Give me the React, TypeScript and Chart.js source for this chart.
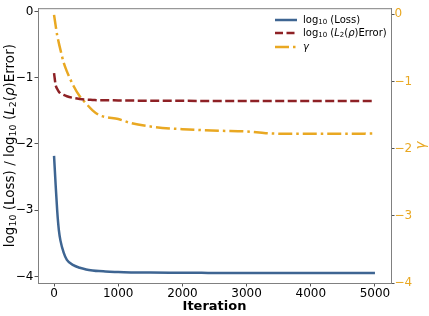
import { useEffect, useRef } from "react";
import { Chart, registerables } from "chart.js";

Chart.register(...registerables);

const iterations = [0, 25, 50, 75, 100, 150, 200, 300, 400, 500, 600, 700, 800, 1000, 1200, 1500, 1800, 2000, 2300, 2600, 3000, 3300, 3600, 4000, 4500, 5000];
const lossLog = [-2.18, -2.62, -3.02, -3.3, -3.46, -3.64, -3.75, -3.83, -3.87, -3.895, -3.91, -3.92, -3.925, -3.935, -3.94, -3.943, -3.945, -3.946, -3.947, -3.948, -3.948, -3.949, -3.949, -3.95, -3.95, -3.95];
const l2ErrorLog = [-0.93, -1.11, -1.17, -1.21, -1.235, -1.26, -1.28, -1.305, -1.32, -1.33, -1.335, -1.34, -1.34, -1.343, -1.345, -1.347, -1.348, -1.349, -1.35, -1.35, -1.35, -1.35, -1.35, -1.35, -1.35, -1.35];
const gammaValues = [-0.01, -0.17, -0.32, -0.43, -0.53, -0.72, -0.85, -1.06, -1.22, -1.33, -1.43, -1.5, -1.53, -1.56, -1.62, -1.67, -1.7, -1.71, -1.725, -1.735, -1.745, -1.77, -1.78, -1.78, -1.78, -1.775];

const xTicks = [0, 1000, 2000, 3000, 4000, 5000];
const yLeftTicks = [-4, -3, -2, -1, 0];
const yRightTicks = [-4, -3, -2, -1, 0];

const seriesLabels = ["log₁₀(Loss)", "log₁₀(L₂(ρ)Error)", "γ"];
const xTitle = "Iteration";
const yLeftTitle = "log₁₀ (Loss) / log₁₀ (L₂(ρ)Error)";
const yRightTitle = "γ";

const BLUE = "#3e6592";
const RED = "#8e2125";
const ORANGE = "#e9a822";
const SPINE = "#808080";
const FONT = '"DejaVu Sans"';

type Seg = { t: string; sub?: boolean; it?: boolean };

// rich text pieces (subscripts, italics) for the mathtext-like labels
const leftTitleSegs: Seg[] = [
  { t: "log" }, { t: "10", sub: true }, { t: " (Loss) / log" }, { t: "10", sub: true },
  { t: " (" }, { t: "L", it: true }, { t: "2", sub: true }, { t: "(" }, { t: "ρ", it: true }, { t: ")Error)" },
];
const legendSegs: Seg[][] = [
  [{ t: "log" }, { t: "10", sub: true }, { t: " (Loss)" }],
  [{ t: "log" }, { t: "10", sub: true }, { t: " (" }, { t: "L", it: true }, { t: "2", sub: true }, { t: "(" }, { t: "ρ", it: true }, { t: ")Error)" }],
  [{ t: "γ", it: true }],
];

function segFont(s: Seg, size: number) {
  const sz = s.sub ? size * 0.7 : size;
  return `${s.it ? "italic " : ""}${sz}px ${FONT}`;
}

function drawRich(ctx: CanvasRenderingContext2D, segs: Seg[], x: number, y: number, size: number, rot: number, align: "center" | "left", color: string) {
  ctx.save();
  ctx.translate(x, y);
  ctx.rotate(rot);
  ctx.fillStyle = color;
  ctx.textBaseline = "middle";
  ctx.textAlign = "left";
  let total = 0;
  const widths = segs.map((s) => {
    ctx.font = segFont(s, size);
    const w = ctx.measureText(s.t).width;
    total += w;
    return w;
  });
  let cx = align === "center" ? -total / 2 : 0;
  segs.forEach((s, i) => {
    ctx.font = segFont(s, size);
    ctx.fillText(s.t, cx, s.sub ? size * 0.25 : 0);
    cx += widths[i];
  });
  ctx.restore();
}

const decorPlugin = {
  id: "decor",
  afterDraw(chart: any) {
    const ctx = chart.ctx as CanvasRenderingContext2D;
    const a = chart.chartArea;
    // top spine
    ctx.save();
    ctx.strokeStyle = SPINE;
    ctx.lineWidth = 1;
    ctx.beginPath();
    ctx.moveTo(a.left, a.top + 0.5);
    ctx.lineTo(a.right, a.top + 0.5);
    ctx.stroke();
    ctx.restore();

    // axis titles
    drawRich(ctx, leftTitleSegs, 10, (a.top + a.bottom) / 2, 13.5, -Math.PI / 2, "center", "#000");
    drawRich(ctx, [{ t: yRightTitle, it: true }], 421, (a.top + a.bottom) / 2, 13.5, -Math.PI / 2, "center", ORANGE);

    // legend
    const rows = [20, 33, 47];
    const styles = [
      { c: BLUE, d: [] as number[] },
      { c: RED, d: [8, 3.5] },
      { c: ORANGE, d: [14, 4, 2.5, 4] },
    ];
    rows.forEach((ry, i) => {
      ctx.save();
      ctx.strokeStyle = styles[i].c;
      ctx.lineWidth = 2.5;
      ctx.setLineDash(styles[i].d);
      ctx.beginPath();
      ctx.moveTo(275, ry);
      ctx.lineTo(297, ry);
      ctx.stroke();
      ctx.restore();
      drawRich(ctx, legendSegs[i], 303, ry, 10, 0, "left", "#000");
    });
  },
};

const fmt = (v: number) => (v < 0 ? "\u2212" + Math.abs(v) : String(v));

export default function App() {
  const ref = useRef<HTMLCanvasElement>(null);
  useEffect(() => {
    document.body.style.margin = "0";
    const canvas = ref.current!;
    const mk = (vals: number[]) => iterations.map((x, i) => ({ x, y: vals[i] }));
    const chart = new Chart(canvas, {
      type: "line",
      data: {
        datasets: [
          { label: seriesLabels[0], data: mk(lossLog), borderColor: BLUE, borderWidth: 2.5, pointRadius: 0, cubicInterpolationMode: "monotone", yAxisID: "y" },
          { label: seriesLabels[1], data: mk(l2ErrorLog), borderColor: RED, borderWidth: 2.5, borderDash: [9, 3.5], pointRadius: 0, cubicInterpolationMode: "monotone", yAxisID: "y" },
          { label: seriesLabels[2], data: mk(gammaValues), borderColor: ORANGE, borderWidth: 2.5, borderDash: [14, 4, 2.5, 4], pointRadius: 0, cubicInterpolationMode: "monotone", yAxisID: "y1" },
        ],
      },
      options: {
        responsive: false,
        animation: false,
        devicePixelRatio: 1,
        layout: { padding: { top: 7, left: 0, right: 0, bottom: 0 } },
        plugins: { legend: { display: false }, tooltip: { enabled: false } },
        scales: {
          x: {
            type: "linear",
            min: -250,
            max: 5250,
            afterBuildTicks: (s: any) => { s.ticks = xTicks.map((value) => ({ value })); },
            afterFit: (s: any) => { s.height = 33; },
            ticks: { color: "#000", font: { family: FONT, size: 12 }, padding: 0, maxRotation: 0, callback: (v: any) => String(v) },
            grid: { drawOnChartArea: false, drawTicks: true, tickLength: 3.5, tickColor: "#555" },
            border: { color: SPINE, width: 1 },
            title: { display: true, text: xTitle, color: "#000", font: { family: FONT, size: 13, weight: "bold" }, padding: { top: 0, bottom: 2 } },
          },
          y: {
            position: "left",
            min: -4.1,
            max: 0.05,
            afterBuildTicks: (s: any) => { s.ticks = yLeftTicks.map((value) => ({ value })); },
            afterFit: (s: any) => { s.width = 38; },
            ticks: { color: "#000", font: { family: FONT, size: 12 }, padding: 1, callback: (v: any) => fmt(Number(v)) },
            grid: { drawOnChartArea: false, drawTicks: true, tickLength: 3.5, tickColor: "#555" },
            border: { color: SPINE, width: 1 },
          },
          y1: {
            position: "right",
            min: -4,
            max: 0.09,
            afterBuildTicks: (s: any) => { s.ticks = yRightTicks.map((value) => ({ value })); },
            afterFit: (s: any) => { s.width = 38; },
            ticks: { color: ORANGE, font: { family: FONT, size: 12 }, padding: 0, callback: (v: any) => fmt(Number(v)) },
            grid: { drawOnChartArea: false, drawTicks: true, tickLength: 3.5, tickColor: "#555" },
            border: { color: SPINE, width: 1 },
          },
        },
      },
      plugins: [decorPlugin],
    } as any);
    return () => chart.destroy();
  }, []);
  return (
    <div style={{ width: 429, height: 316 }}>
      <canvas ref={ref} width={429} height={316} style={{ display: "block" }} />
    </div>
  );
}
